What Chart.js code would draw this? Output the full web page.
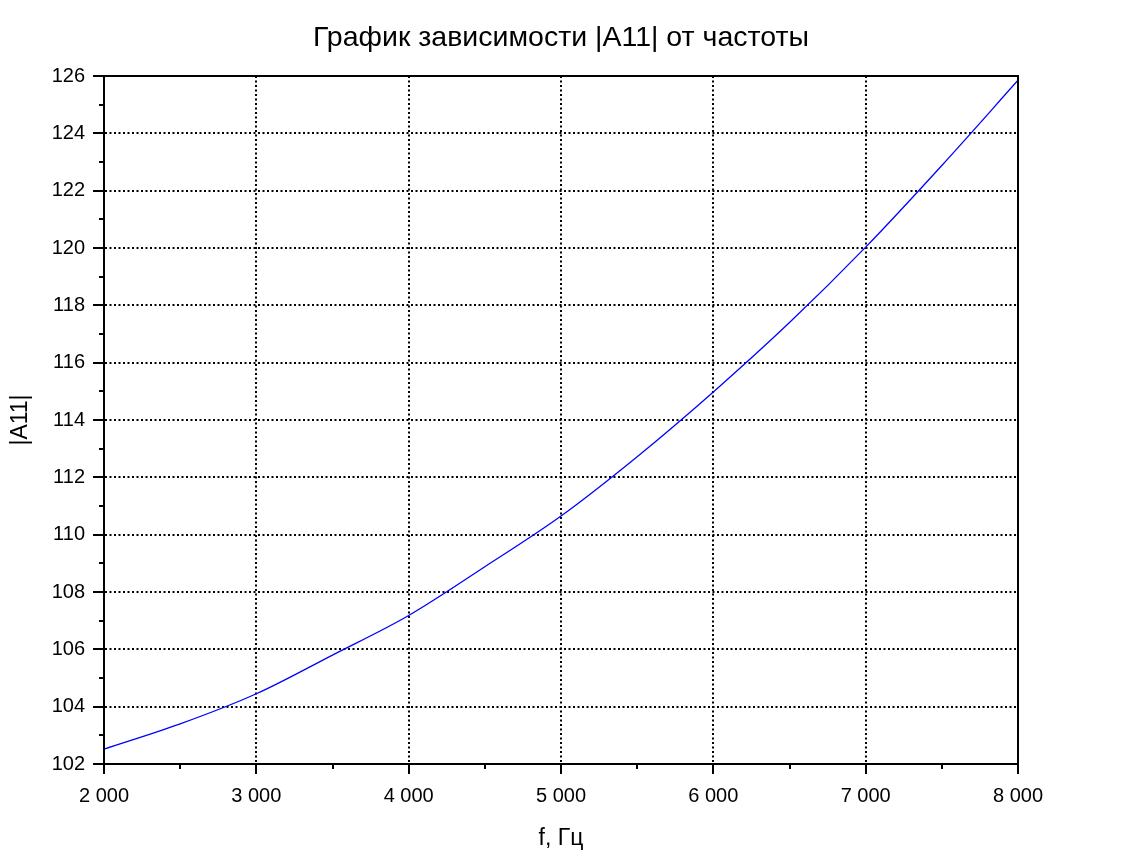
<!DOCTYPE html>
<html>
<head>
<meta charset="utf-8">
<script src="https://cdn.jsdelivr.net/npm/chart.js@4/dist/chart.umd.min.js"></script>
<style>
  html,body{margin:0;padding:0;background:#fff;}
  #c{display:block;}
</style>
</head>
<body>
<canvas id="c" width="1121" height="867"></canvas>
<script>
// f, Hz
const freqs=[2000,2500,3000,3500,4000,4500,5000,5500,6000,6500,7000,7500,8000];
// |A11|
const a11=[102.52,103.4,104.45,105.8,107.18,108.88,110.65,112.72,114.98,117.4,120.03,122.88,125.85];
const xMinor=[2500,3500,4500,5500,6500,7500];
const yMinor=[103,105,107,109,111,113,115,117,119,121,123,125];
const title='График зависимости |A11| от частоты';

const FONT='"Liberation Sans", Arial, sans-serif';
const fmt=v=>String(v).replace(/\B(?=(\d{3})+(?!\d))/g,' ');

// title over the plot box, frame + minor ticks, drawn off the scales
const frame={
  id:'frame',
  afterDraw(chart){
    const {ctx,chartArea:a,scales:{x,y}}=chart;
    ctx.save();
    ctx.fillStyle='#000'; ctx.font='28.5px '+FONT; ctx.textAlign='center'; ctx.textBaseline='middle';
    ctx.fillText(title,(a.left+a.right)/2,38);
    ctx.strokeStyle='#000'; ctx.lineWidth=2;
    ctx.strokeRect(a.left,a.top,a.right-a.left,a.bottom-a.top);
    ctx.beginPath();
    xMinor.forEach(v=>{const px=Math.round(x.getPixelForValue(v)); ctx.moveTo(px,a.bottom); ctx.lineTo(px,a.bottom+5);});
    yMinor.forEach(v=>{const py=Math.round(y.getPixelForValue(v)); ctx.moveTo(a.left,py); ctx.lineTo(a.left-5,py);});
    ctx.stroke();
    ctx.restore();
  }
};

new Chart(document.getElementById('c'),{
  type:'line',
  data:{datasets:[{data:freqs.map((f,i)=>({x:f,y:a11[i]})),borderColor:'#0000ff',borderWidth:1.3,pointRadius:0,cubicInterpolationMode:'monotone',fill:false}]},
  options:{
    responsive:false,animation:false,devicePixelRatio:1,
    layout:{padding:{left:0,right:103,top:76,bottom:0}},
    plugins:{legend:{display:false},tooltip:{enabled:false},title:{display:false}},
    scales:{
      x:{type:'linear',min:2000,max:8000,
        afterFit:s=>{s.height=103;},
        ticks:{stepSize:1000,color:'#000',padding:10,maxRotation:0,font:{family:FONT,size:20},callback:v=>fmt(v)},
        grid:{color:'#000',lineWidth:2,tickLength:10,tickWidth:2,tickColor:'#000',tickBorderDash:[]},
        border:{display:true,color:'#000',width:2,dash:[2,2.5]},
        title:{display:true,text:'f, Гц',color:'#000',font:{family:FONT,size:23,lineHeight:1.2},padding:{top:0,bottom:15}}
      },
      y:{type:'linear',min:102,max:126,
        afterFit:s=>{s.width=104;},
        ticks:{stepSize:2,color:'#000',padding:8,font:{family:FONT,size:20}},
        grid:{color:'#000',lineWidth:2,tickLength:11,tickWidth:2,tickColor:'#000',tickBorderDash:[]},
        border:{display:true,color:'#000',width:2,dash:[2,2.5]},
        title:{display:true,text:'|A11|',color:'#000',font:{family:FONT,size:23,lineHeight:1.2},padding:{top:7,bottom:0}}
      }
    }
  },
  plugins:[frame]
});
</script>
</body>
</html>
